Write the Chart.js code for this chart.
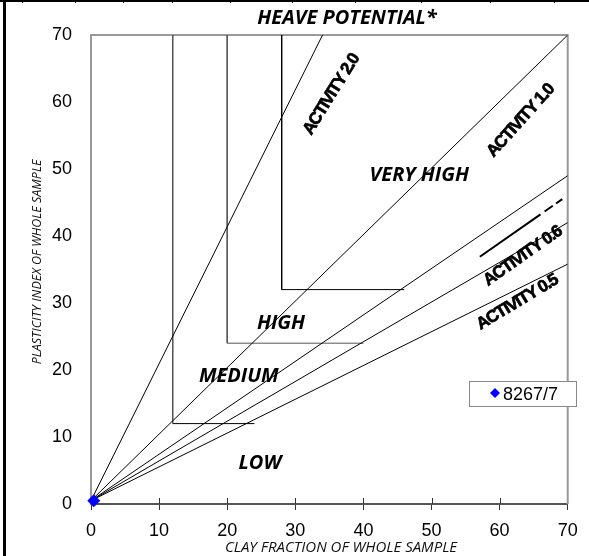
<!DOCTYPE html>
<html>
<head>
<meta charset="utf-8">
<script src="https://cdn.jsdelivr.net/npm/chart.js@4/dist/chart.umd.min.js"></script>
<style>
html,body{margin:0;padding:0;background:#fff;}
canvas{display:block;}
</style>
</head>
<body>
<canvas id="c" width="589" height="556"></canvas>
<script>
// ---- data ----
const xTickValues = [0, 10, 20, 30, 40, 50, 60, 70];
const yTickValues = [0, 10, 20, 30, 40, 50, 60, 70];
const activityNames = ['ACTIVITY 2.0', 'ACTIVITY 1.0', 'ACTIVITY 0.7', 'ACTIVITY 0.6', 'ACTIVITY 0.5'];
const activityStartX = [0, 0, 0, 0, 0];
const activityStartY = [0.5, 0.5, 0.5, 0.5, 0.5];
const activityEndX = [34, 70, 70, 70, 70];
const activityEndY = [70, 70, 49, 42, 35.8];
const boundaryNames = ['LOW/MEDIUM', 'MEDIUM/HIGH', 'HIGH/VERY HIGH'];
const boundaryClay = [12, 20, 28];
const boundaryPI = [12, 24, 32];
const boundaryEndClay = [24, 40, 46];
const boundaryTopPI = [70, 70, 70];
const dashedClay = [57.1, 69.2];
const dashedPI = [36.9, 45.5];
const sampleName = '8267/7';
const sampleClay = [0.4];
const samplePI = [0.5];
const zoneNames = ['VERY HIGH', 'HIGH', 'MEDIUM', 'LOW'];
const chartTitle = 'HEAVE POTENTIAL*';
const xTitle = 'CLAY FRACTION OF WHOLE SAMPLE';
const yTitle = 'PLASTICITY INDEX OF WHOLE SAMPLE';

// ---- build datasets ----
const datasets = [];
datasets.push({
  label: sampleName,
  data: sampleClay.map((x, i) => ({x, y: samplePI[i]})),
  pointStyle: 'rectRot', pointRadius: 6.5, backgroundColor: '#0000ff', borderColor: '#0000ff',
  borderWidth: 0, showLine: false, clip: false, order: 0
});
activityNames.forEach((n, i) => {
  datasets.push({
    label: n,
    data: [{x: activityStartX[i], y: activityStartY[i]}, {x: activityEndX[i], y: activityEndY[i]}],
    showLine: true, borderColor: '#000', borderWidth: 1, pointRadius: 0, order: 2
  });
});
boundaryNames.forEach((n, i) => {
  datasets.push({
    label: n + ' v',
    data: [{x: boundaryClay[i], y: boundaryTopPI[i]}, {x: boundaryClay[i], y: boundaryPI[i]}],
    showLine: true, borderColor: i === 2 ? '#000' : '#555', borderWidth: 1, pointRadius: 0, order: 2
  });
  datasets.push({
    label: n + ' h',
    data: [{x: boundaryClay[i], y: boundaryPI[i]}, {x: boundaryEndClay[i], y: boundaryPI[i]}],
    showLine: true, borderColor: i === 1 ? '#555' : '#000', borderWidth: 1, pointRadius: 0, order: 2
  });
});
datasets.push({
  label: 'dashed',
  data: dashedClay.map((x, i) => ({x, y: dashedPI[i]})),
  showLine: true, borderColor: '#000', borderWidth: 2, borderDash: [74, 5, 10, 4, 9, 50],
  pointRadius: 0, order: 1
});

const LBL = 'Liberation Sans, Arial, sans-serif';
const CAL = '"Open Sans", sans-serif';

const deco = {
  id: 'deco',
  beforeDraw(chart) {
    const c = chart.ctx;
    c.save();
    c.fillStyle = '#fff';
    c.fillRect(0, 0, chart.width, chart.height);
    c.fillStyle = '#000';
    c.fillRect(3, 0, 3, chart.height);
    c.fillRect(0, 0, chart.width, 2);
    [22, 75, 123, 172, 230, 292, 355, 421, 490, 554].forEach(x => c.fillRect(x, 0, 1, 3));
    c.restore();
  },
  beforeDatasetsDraw(chart) {
    const c = chart.ctx, a = chart.chartArea, xs = chart.scales.x;
    c.save();
    c.strokeStyle = '#999';
    c.lineWidth = 2;
    c.beginPath();
    c.moveTo(a.left, a.top); c.lineTo(a.right, a.top); c.lineTo(a.right, a.bottom);
    c.stroke();
    c.strokeStyle = '#333';
    c.lineWidth = 1;
    xTickValues.forEach(v => {
      if (v === 0 || v === 70) return;
      const px = Math.round(xs.getPixelForValue(v)) + 0.5;
      c.beginPath(); c.moveTo(px, a.bottom - 6); c.lineTo(px, a.bottom); c.stroke();
    });
    c.restore();
  },
  afterDraw(chart) {
    const c = chart.ctx, xs = chart.scales.x, ys = chart.scales.y;
    const P = (x, y) => [xs.getPixelForValue(x), ys.getPixelForValue(y)];
    c.save();
    c.fillStyle = '#000';
    c.textAlign = 'center';
    c.textBaseline = 'middle';
    c.font = 'italic bold 20px ' + CAL;
    c.fillText(chartTitle, 347, 18);
    const zonePos = [[48.2, 49.1], [27.9, 27.0], [21.7, 19.1], [24.8, 6.1]];
    zoneNames.forEach((n, i) => {
      const [px, py] = P(zonePos[i][0], zonePos[i][1]);
      c.fillText(n, px, py);
    });
    const actLbl = [
      ['ACTIVITY 2.0', 35.3, 61.1, -58],
      ['ACTIVITY 1.0', 63.1, 57.2, -48],
      ['ACTIVITY 0.6', 63.4, 37.0, -35],
      ['ACTIVITY 0.5', 62.6, 30.1, -31]
    ];
    c.font = 'bold 17px ' + LBL;
    c.strokeStyle = '#000';
    c.lineWidth = 0.7;
    try { c.letterSpacing = '-1.2px'; } catch (e) {}
    actLbl.forEach(([t, x, y, ang]) => {
      const [px, py] = P(x, y);
      c.save();
      c.translate(px, py);
      c.rotate(ang * Math.PI / 180);
      c.fillText(t, 0, 0);
      c.strokeText(t, 0, 0);
      c.restore();
    });
    try { c.letterSpacing = '0px'; } catch (e) {}
    c.fillStyle = '#111';
    c.font = 'italic 15px ' + CAL;
    c.fillText(xTitle, 341, 548);
    c.save();
    c.translate(37, 262);
    c.rotate(-Math.PI / 2);
    c.font = 'italic 12.5px ' + CAL;
    c.fillText(yTitle, 0, 0);
    c.restore();
    // legend
    c.fillStyle = '#fff';
    c.fillRect(469.5, 381.5, 107, 25);
    c.strokeStyle = '#888';
    c.lineWidth = 1;
    c.strokeRect(469.5, 381.5, 107, 25);
    const ds = chart.data.datasets[0];
    c.fillStyle = ds.backgroundColor;
    c.beginPath();
    c.moveTo(495, 388); c.lineTo(500, 393); c.lineTo(495, 398); c.lineTo(490, 393); c.closePath();
    c.fill();
    c.fillStyle = '#000';
    c.textAlign = 'left';
    c.textBaseline = 'alphabetic';
    c.font = '18px ' + LBL;
    c.fillText(ds.label, 503, 400);
    c.restore();
  }
};

new Chart(document.getElementById('c'), {
  type: 'scatter',
  data: {datasets},
  plugins: [deco],
  options: {
    responsive: false,
    animation: false,
    devicePixelRatio: 1,
    layout: {padding: {left: 0, right: 21.3, top: 35, bottom: 0}},
    plugins: {legend: {display: false}, tooltip: {enabled: false}},
    scales: {
      x: {
        type: 'linear', min: 0, max: 70,
        afterBuildTicks(s) { s.ticks = xTickValues.map(v => ({value: v})); },
        afterFit(s) { s.height = 52; },
        ticks: {color: '#000', font: {family: LBL, size: 18}, padding: 10, maxRotation: 0},
        grid: {drawOnChartArea: false, drawTicks: true, tickLength: 6, color: '#333', lineWidth: 1},
        border: {color: '#555', width: 2}
      },
      y: {
        type: 'linear', min: 0, max: 70,
        afterBuildTicks(s) { s.ticks = yTickValues.map(v => ({value: v})); },
        afterFit(s) { s.width = 91; },
        ticks: {color: '#000', font: {family: LBL, size: 18}, padding: 19},
        grid: {drawOnChartArea: false, drawTicks: false, tickLength: 0},
        border: {color: '#999', width: 2}
      }
    }
  }
});
</script>
</body>
</html>
